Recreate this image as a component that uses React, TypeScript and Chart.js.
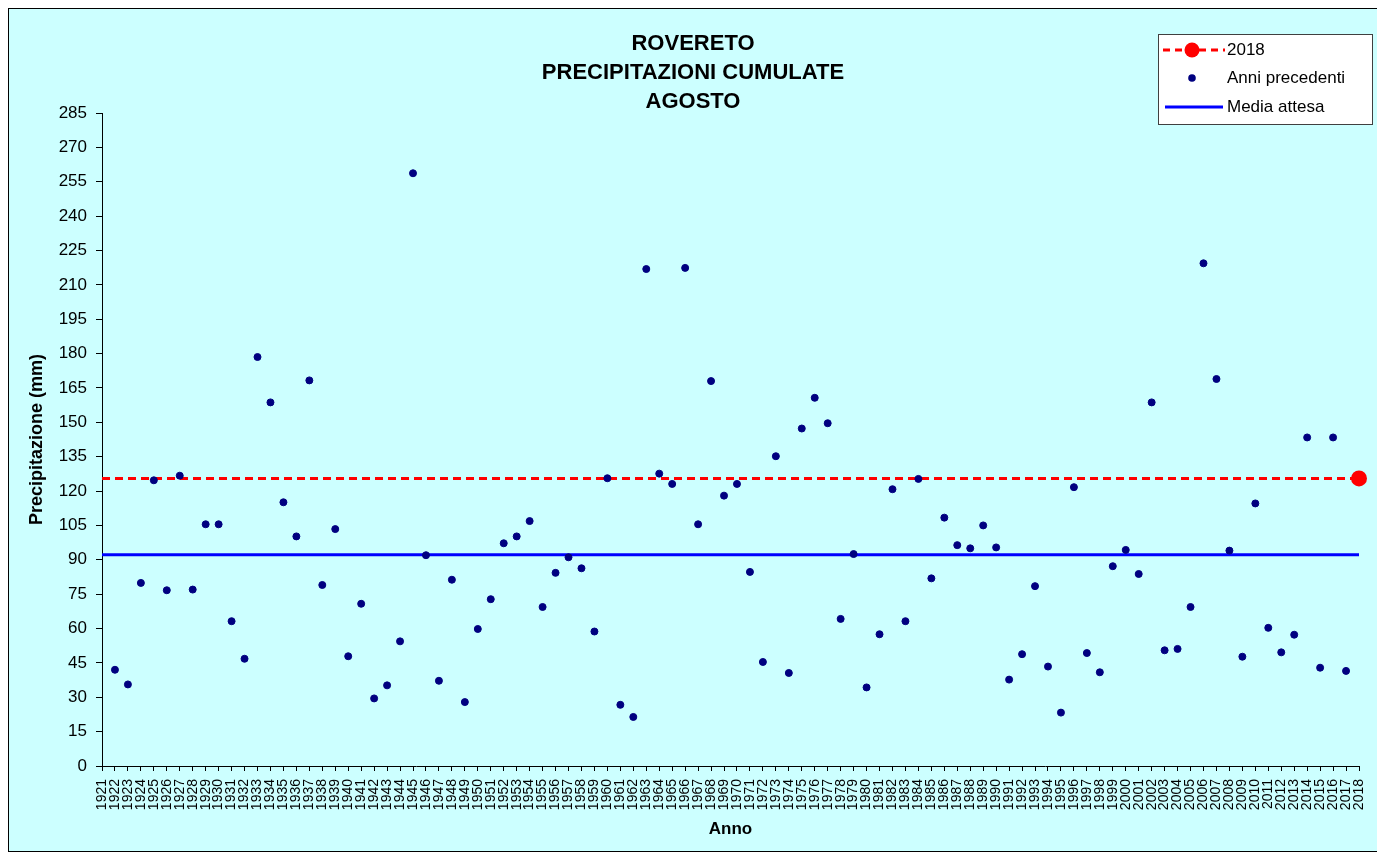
import React, { useEffect, useRef } from 'react';
import { Chart, registerables } from 'chart.js';

Chart.register(...registerables);

const FONT = '"Liberation Sans", Arial, Helvetica, sans-serif';

const titleLines: string[] = ['ROVERETO', 'PRECIPITAZIONI CUMULATE', 'AGOSTO'];

const firstYear = 1921;
const lastYear = 2018;
const years: string[] = Array.from({ length: lastYear - firstYear + 1 }, (_, i) => String(firstYear + i));

// Cumulative August precipitation (mm), 1921..2018 (1921 and 2018 not in this series)
const previousYears: (number | null)[] = [
  null, 42.0, 35.6, 79.9, 124.7, 76.7, 126.7, 77.0, 105.5, 105.5, // 1921-1930
  63.2, 46.8, 178.5, 158.7, 115.1, 100.2, 168.3, 79.0, 103.4, 47.9, // 1931-1940
  70.8, 29.5, 35.2, 54.4, 258.7, 92.0, 37.2, 81.3, 27.9, 59.8, // 1941-1950
  72.8, 97.2, 100.2, 106.9, 69.4, 84.3, 91.1, 86.3, 58.7, 125.6, // 1951-1960
  26.7, 21.4, 216.9, 127.6, 123.1, 217.4, 105.5, 168.0, 118.0, 123.1, // 1961-1970
  84.7, 45.4, 135.2, 40.6, 147.3, 160.7, 149.6, 64.2, 92.5, 34.3, // 1971-1980
  57.5, 120.8, 63.2, 125.3, 81.9, 108.4, 96.4, 95.0, 105.0, 95.4, // 1981-1990
  37.7, 48.8, 78.5, 43.4, 23.3, 121.7, 49.3, 40.9, 87.2, 94.3, // 1991-2000
  83.8, 158.7, 50.5, 51.1, 69.4, 219.4, 168.9, 94.0, 47.7, 114.6, // 2001-2010
  60.3, 49.6, 57.3, 143.4, 42.9, 143.4, 41.5, null, // 2011-2018
];

const value2018 = 125.5;
const expectedMean = 92.2;

const yMin = 0;
const yMax = 285;
const yStep = 15;

const legendLabels: string[] = ['2018', 'Anni precedenti', 'Media attesa'];

const boxLegend = {
  id: 'boxLegend',
  afterDraw(chart: any) {
    const ctx: CanvasRenderingContext2D = chart.ctx;
    ctx.save();
    const x0 = 1149;
    const y0 = 25;
    const w = 214;
    const h = 90;
    ctx.fillStyle = '#ffffff';
    ctx.fillRect(x0, y0, w, h);
    ctx.strokeStyle = '#404040';
    ctx.lineWidth = 1;
    ctx.strokeRect(x0 + 0.5, y0 + 0.5, w, h);

    const rows = [41, 69, 98];
    // 2018
    ctx.strokeStyle = '#FF0000';
    ctx.lineWidth = 3;
    ctx.setLineDash([7, 5]);
    ctx.beginPath();
    ctx.moveTo(1154, rows[0]);
    ctx.lineTo(1216, rows[0]);
    ctx.stroke();
    ctx.setLineDash([]);
    ctx.fillStyle = '#FF0000';
    ctx.beginPath();
    ctx.arc(1183, rows[0], 7.5, 0, Math.PI * 2);
    ctx.fill();
    // Anni precedenti
    ctx.fillStyle = '#000080';
    ctx.beginPath();
    ctx.arc(1183, rows[1], 3.8, 0, Math.PI * 2);
    ctx.fill();
    // Media attesa
    ctx.strokeStyle = '#0000FF';
    ctx.lineWidth = 3;
    ctx.beginPath();
    ctx.moveTo(1156, rows[2]);
    ctx.lineTo(1214, rows[2]);
    ctx.stroke();

    ctx.fillStyle = '#000000';
    ctx.font = `17px ${FONT}`;
    ctx.textBaseline = 'middle';
    ctx.textAlign = 'left';
    legendLabels.forEach((t, i) => ctx.fillText(t, 1218, rows[i]));
    ctx.restore();
  },
};

export default function App() {
  const ref = useRef<HTMLCanvasElement>(null);

  useEffect(() => {
    if (!ref.current) return;
    const chart = new Chart(ref.current, {
      type: 'line',
      data: {
        labels: years,
        datasets: [
          {
            label: 'Anni precedenti',
            data: previousYears,
            showLine: false,
            pointRadius: 3.5,
            pointBorderWidth: 1,
            pointBackgroundColor: '#000080',
            pointBorderColor: '#000080',
            borderColor: '#000080',
            backgroundColor: '#000080',
            order: 0,
          },
          {
            label: '2018',
            data: [
              { x: years[0], y: value2018 },
              { x: years[years.length - 1], y: value2018 },
            ],
            borderColor: '#FF0000',
            backgroundColor: '#FF0000',
            borderWidth: 3,
            borderDash: [8, 5],
            pointRadius: [0, 8],
            pointBorderWidth: 0,
            pointBackgroundColor: '#FF0000',
            pointBorderColor: '#FF0000',
            clip: false,
            order: 1,
          },
          {
            label: 'Media attesa',
            data: [
              { x: years[0], y: expectedMean },
              { x: years[years.length - 1], y: expectedMean },
            ],
            borderColor: '#0000FF',
            backgroundColor: '#0000FF',
            borderWidth: 3,
            pointRadius: 0,
            order: 2,
          },
        ],
      },
      options: {
        responsive: false,
        animation: false,
        devicePixelRatio: 1,
        events: [],
        layout: { padding: 0 },
        plugins: {
          legend: { display: false },
          tooltip: { enabled: false },
          title: {
            display: true,
            text: titleLines,
            color: '#000000',
            font: { family: FONT, size: 22, weight: 'bold', lineHeight: 29 / 22 },
            padding: { top: 20.5, bottom: -3.5 },
          },
        },
        scales: {
          x: {
            type: 'category',
            offset: false,
            grid: {
              display: true,
              drawOnChartArea: false,
              drawTicks: true,
              tickLength: 5,
              color: '#000000',
            },
            border: { display: true, color: '#000000', width: 1 },
            ticks: {
              autoSkip: false,
              maxRotation: 90,
              minRotation: 90,
              padding: 8,
              color: '#000000',
              font: { family: FONT, size: 14 },
            },
            title: {
              display: true,
              text: 'Anno',
              color: '#000000',
              font: { family: FONT, size: 17, weight: 'bold' },
              padding: { top: 0, bottom: 11 },
            },
            afterFit: (s: any) => {
              s.height = 85;
              s.paddingRight = 0;
              s.paddingLeft = 0;
            },
          },
          y: {
            min: yMin,
            max: yMax,
            grid: {
              display: true,
              drawOnChartArea: false,
              drawTicks: true,
              tickLength: 6,
              color: '#000000',
            },
            border: { display: true, color: '#000000', width: 1 },
            ticks: {
              stepSize: yStep,
              autoSkip: false,
              padding: 9,
              color: '#000000',
              font: { family: FONT, size: 17 },
            },
            title: {
              display: true,
              text: 'Precipitazione (mm)',
              color: '#000000',
              font: { family: FONT, size: 18, weight: 'bold' },
              padding: { top: 17.7, bottom: 0 },
            },
            afterFit: (s: any) => {
              s.width = 93;
            },
          },
          spacer: {
            type: 'linear',
            position: 'right',
            display: true,
            grid: { display: false },
            border: { display: false },
            ticks: { display: false },
            afterFit: (s: any) => {
              s.width = 18;
              s.paddingTop = 0;
              s.paddingBottom = 0;
            },
          },
        },
      },
      plugins: [boxLegend],
    } as any);
    return () => chart.destroy();
  }, []);

  return (
    <div
      style={{
        width: 1368,
        height: 842,
        border: '1px solid #000000',
        background: '#CCFFFF',
      }}
    >
      <canvas
        ref={ref}
        width={1368}
        height={842}
        style={{ display: 'block', width: 1368, height: 842 }}
      />
    </div>
  );
}
